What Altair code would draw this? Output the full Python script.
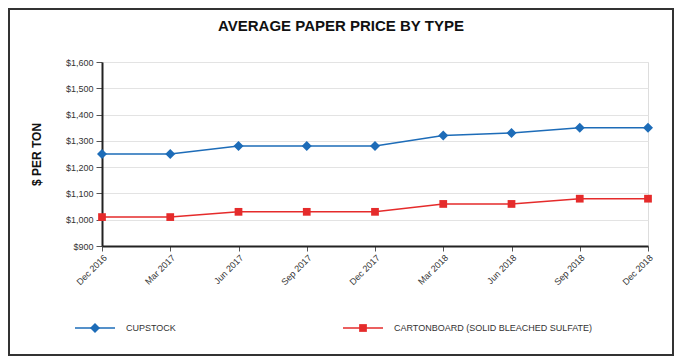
import altair as alt
import pandas as pd

quarters = ["Dec 2016", "Mar 2017", "Jun 2017", "Sep 2017", "Dec 2017",
            "Mar 2018", "Jun 2018", "Sep 2018", "Dec 2018"]
cupstock = [1250, 1250, 1280, 1280, 1280, 1320, 1330, 1350, 1350]
cartonboard = [1010, 1010, 1030, 1030, 1030, 1060, 1060, 1080, 1080]
series_names = ["CUPSTOCK", "CARTONBOARD (SOLID BLEACHED SULFATE)"]
colors = ["#1d6cb8", "#e52b2b"]
shapes = ["diamond", "square"]
marker_sizes = [100, 60]
y_ticks = [900, 1000, 1100, 1200, 1300, 1400, 1500, 1600]

rows = []
for q, v in zip(quarters, cupstock):
    rows.append({"quarter": q, "price": v, "series": series_names[0]})
for q, v in zip(quarters, cartonboard):
    rows.append({"quarter": q, "price": v, "series": series_names[1]})
df = pd.DataFrame(rows)

W, H = 546, 184
FONT = "Liberation Sans"

x_enc = alt.X("quarter:N", sort=quarters,
              scale=alt.Scale(type="point", padding=0),
              axis=alt.Axis(title=None, labelAngle=-45, labelAlign="right",
                            labelBaseline="top", labelFontSize=9, labelColor="#333",
                            labelFont=FONT, domainColor="#222", domainWidth=2,
                            tickColor="#555", tickSize=5, labelPadding=2, grid=False,
                            labelOverlap=False))
y_enc = alt.Y("price:Q", scale=alt.Scale(domain=[900, 1600], nice=False, zero=False),
              axis=alt.Axis(title="$ PER TON", values=y_ticks, format="$,.0f",
                            titleFont=FONT, titleFontSize=12, titleFontWeight="bold",
                            titleColor="#111", titlePadding=22,
                            labelFontSize=9, labelColor="#333", labelFont=FONT,
                            labelOverlap=False,
                            domainColor="#222", domainWidth=2, tickColor="#555",
                            tickSize=6, labelPadding=3,
                            grid=True, gridColor="#e3e3e3", gridWidth=1))
color_enc = alt.Color("series:N", scale=alt.Scale(domain=series_names, range=colors), legend=None)
shape_enc = alt.Shape("series:N", scale=alt.Scale(domain=series_names, range=shapes), legend=None)
size_enc = alt.Size("series:N", scale=alt.Scale(domain=series_names, range=marker_sizes), legend=None)

base = alt.Chart(df)
lines = base.mark_line(strokeWidth=1.5).encode(x=x_enc, y=y_enc, color=color_enc)
points = base.mark_point(filled=True, opacity=1).encode(
    x=x_enc, y=y_enc, color=color_enc, shape=shape_enc, size=size_enc)

one = pd.DataFrame({"k": [0]})
border = alt.Chart(one).mark_rect(fill=None, stroke="#333", strokeWidth=2).encode(
    x=alt.value(-93), x2=alt.value(W + 25), y=alt.value(-53), y2=alt.value(H + 109))

legend_layers = []
leg_x = [-27, 241]
for i, name in enumerate(series_names):
    lx = leg_x[i]
    legend_layers.append(alt.Chart(one).mark_rule(color=colors[i], strokeWidth=1.5).encode(
        x=alt.value(lx), x2=alt.value(lx + 40), y=alt.value(266)))
    legend_layers.append(alt.Chart(one).mark_point(filled=True, opacity=1, size=marker_sizes[i],
                                                   shape=shapes[i], color=colors[i]).encode(
        x=alt.value(lx + 20), y=alt.value(266)))
    legend_layers.append(alt.Chart(one).mark_text(text=name, align="left", baseline="middle",
                                                  font=FONT, fontSize=9, color="#333").encode(
        x=alt.value(lx + 51), y=alt.value(266)))

chart = alt.layer(border, lines, points, *legend_layers).properties(
    width=W, height=H,
    title=alt.TitleParams("AVERAGE PAPER PRICE BY TYPE", font=FONT, fontSize=15,
                          fontWeight="bold", color="#111", anchor="middle", dx=-34,
                          offset=0, dy=26),
    padding={"left": 94, "top": 54, "right": 26, "bottom": 110},
    autosize=alt.AutoSizeParams(type="none"),
).configure_view(stroke=None).configure(background="white")

chart.save("out.html", embed_options={"renderer": "svg", "actions": False})
